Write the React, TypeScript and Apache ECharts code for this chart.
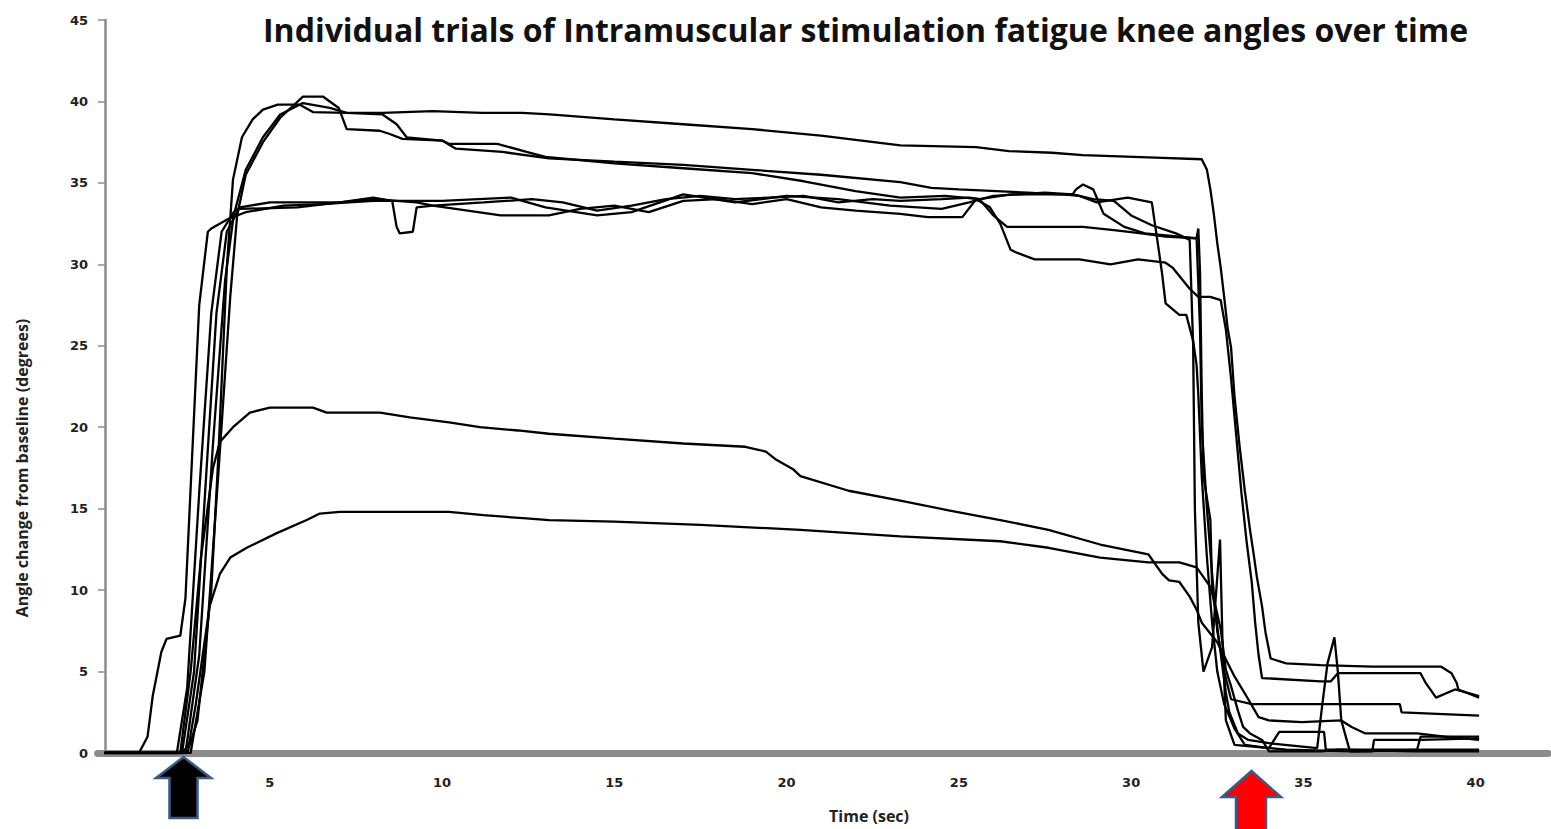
import React, { useEffect, useRef } from "react";
import * as echarts from "echarts";

const titleText = "Individual trials of Intramuscular stimulation fatigue knee angles over time";
const xAxisName = "Time (sec)";
const yAxisName = "Angle change from baseline (degrees)";

const trial1: number[][] = [[0.2,0],[2.6,0],[2.9,2],[3.3,10],[3.5,18],[3.75,29.8],[3.93,35.2],[4.19,37.8],[4.5,38.9],[4.8,39.5],[5.23,39.8],[5.87,39.8],[6.25,39.35],[7.23,39.3],[8.27,39.3],[9.72,39.4],[11.17,39.3],[12.33,39.3],[13.12,39.2],[15,38.9],[17,38.6],[19,38.3],[21,37.9],[23.3,37.3],[25.5,37.2],[26.45,36.95],[27.7,36.85],[28.6,36.7],[30.7,36.55],[32.05,36.45],[32.2,35.8],[32.3,34.6],[32.4,33.1],[32.5,31.3],[32.6,29.8],[32.7,28.0],[32.8,26.1],[32.9,24.9],[33.0,21.9],[33.15,18.8],[33.3,16.1],[33.45,13.7],[33.55,12.3],[33.65,10.8],[33.8,9.0],[33.9,7.4],[34.05,5.8],[34.5,5.5],[35.5,5.4],[37.0,5.3],[39.0,5.3],[39.3,4.9],[39.45,4.3],[39.5,3.9],[40.1,3.4]];
const trial2: number[][] = [[0.2,0],[2.7,0],[3.1,5],[3.5,17],[3.85,28],[4.05,33],[4.3,35.5],[4.8,37.5],[5.3,39.0],[5.96,40.3],[6.54,40.3],[7.0,39.6],[7.23,38.3],[8.19,38.2],[8.48,38.0],[8.85,37.7],[10.0,37.6],[10.4,37.1],[11.75,36.9],[13.1,36.5],[15,36.3],[17,36.1],[19,35.8],[21,35.5],[23.3,35.05],[24.2,34.7],[25,34.6],[27,34.4],[27.9,34.3],[28.3,34.3],[28.4,34.6],[28.6,34.9],[28.9,34.6],[29.0,34.1],[29.2,33.1],[29.8,32.3],[30.4,31.9],[31.4,31.7],[31.9,31.6],[31.95,32.2],[32.0,29.5],[32.05,22],[32.1,17],[32.3,14.3],[32.35,10.2],[32.6,6.1],[32.75,3.7],[32.85,2.5],[33.1,1.2],[33.4,0.8],[34.0,0.6],[35.4,0.3],[35.55,3.0],[35.7,5.5],[35.9,7.1],[36.0,5.0],[36.1,2.0],[36.35,0.1],[37.0,0.1],[37.05,0.8],[38.4,0.8],[40.1,0.9]];
const trial3: number[][] = [[0.2,0],[2.55,0],[2.95,6],[3.35,19],[3.7,29],[3.95,33],[4.3,35.8],[4.8,37.8],[5.3,39.2],[5.96,39.9],[6.74,39.6],[7.23,39.3],[8.27,39.2],[8.68,38.6],[8.97,37.8],[10.0,37.6],[10.2,37.4],[11.6,37.4],[12.45,36.9],[13.0,36.6],[15,36.2],[17,35.9],[19,35.6],[20.5,35.1],[22,34.5],[23.3,34.1],[24.6,34.2],[25.6,34.0],[26.5,34.3],[28.0,34.3],[28.5,34.2],[29.0,33.8],[29.9,34.1],[30.6,33.8],[30.8,30.9],[30.9,29.4],[31.0,27.6],[31.4,26.9],[31.6,26.9],[31.7,26.1],[31.8,25.3],[31.9,23.8],[31.95,22.0],[32.05,17],[32.2,12.0],[32.35,8.0],[32.5,5.0],[32.7,3.0],[33.0,1.5],[33.3,0.5],[34.0,0.3],[34.3,1.3],[35.6,1.3],[35.65,0.2],[37.0,0.2],[38.3,0.2],[38.4,1.0],[40.1,1.0]];
const trial4: number[][] = [[0.2,0],[2.3,0],[2.6,4],[2.95,16],[3.3,27],[3.6,32],[3.95,33.2],[4.13,33.5],[5.0,33.8],[6.07,33.8],[7.03,33.8],[8.0,34.1],[8.55,33.9],[8.68,32.3],[8.77,31.9],[9.15,32.0],[9.26,33.5],[9.73,33.6],[11.2,33.8],[12.6,34.0],[13.5,33.8],[14.5,33.3],[15.5,33.6],[16.5,34.0],[17.5,34.2],[18.5,34.0],[19.5,34.1],[20.5,34.2],[21.5,33.8],[22.5,34.0],[23.3,33.9],[24.5,34.0],[25.3,34.1],[25.6,34.0],[26.0,33.0],[26.4,32.3],[28.6,32.3],[29.5,32.1],[30.3,31.9],[31.0,31.7],[31.9,31.6],[32.0,26],[32.05,20],[32.2,15],[32.35,11],[32.5,7.5],[32.7,5.0],[32.9,3.3],[33.5,3.0],[37.8,3.0],[37.85,2.5],[40.1,2.3]];
const trial5: number[][] = [[0.2,0],[2.45,0],[2.8,5],[3.15,17],[3.45,27],[3.75,32],[4.1,33.4],[5.8,33.5],[7.03,33.8],[8.0,34.0],[9.26,33.8],[9.73,33.6],[11.7,33.0],[13.1,33.0],[14,33.4],[15,33.6],[16,33.2],[17,33.9],[18,34.0],[19,33.7],[20,34.0],[21,33.5],[22,33.3],[23.3,33.1],[24.1,32.9],[25.1,32.9],[25.5,34.0],[25.9,33.5],[26.2,32.5],[26.5,30.9],[26.7,30.7],[27.2,30.3],[28.5,30.3],[29.4,30.0],[30.2,30.3],[31.0,30.1],[31.2,29.8],[31.7,28.5],[31.95,28.0],[32.3,28.0],[32.6,27.8],[32.75,26],[32.9,23],[33.05,19.5],[33.2,16],[33.35,13],[33.5,10.5],[33.6,8.0],[33.7,6],[33.8,4.6],[35.5,4.4],[35.8,4.4],[36.0,4.9],[38.4,4.9],[38.55,4.3],[38.85,3.4],[39.4,3.9],[40.1,3.5]];
const trial6: number[][] = [[0.2,0],[1.2,0],[1.45,1],[1.6,3.5],[1.85,6.2],[2.0,7.0],[2.4,7.2],[2.55,9.5],[2.95,27.5],[3.2,32.0],[3.3,32.2],[3.8,32.8],[4.3,33.2],[5.4,33.6],[6.5,33.7],[8,33.9],[10,33.9],[12,34.1],[13,33.5],[14.5,33.0],[15.5,33.2],[17,34.3],[18.5,33.8],[20,34.2],[21.5,34.0],[23,33.6],[24.5,33.4],[25.3,33.8],[26,34.2],[27.5,34.4],[28.3,34.3],[28.9,34.0],[29.5,33.9],[30.0,33.0],[30.6,32.4],[31.3,31.9],[31.7,31.5],[31.8,25],[31.85,15],[31.95,8],[32.1,5],[32.35,6.5],[32.58,13.1],[32.65,7],[32.75,2],[33.0,0.5],[34.5,0.2],[36.5,0.1],[38.5,0.2],[40.1,0.2]];
const trial7: number[][] = [[0.2,0],[2.4,0],[2.7,5],[3.0,12],[3.35,17.5],[3.55,19.1],[3.93,20.0],[4.42,20.9],[5.0,21.2],[6.25,21.2],[6.65,20.9],[8.2,20.9],[9.06,20.6],[10.2,20.3],[11.1,20.0],[12.2,19.8],[13.1,19.6],[15,19.3],[17,19.0],[18.8,18.8],[19.4,18.5],[19.7,18.0],[20.2,17.4],[20.4,17.0],[21.8,16.1],[23.3,15.5],[24.7,14.9],[26.2,14.3],[27.6,13.7],[29.1,12.8],[30.5,12.2],[30.9,11.0],[31.1,10.6],[31.4,10.5],[31.7,9.6],[31.9,8.8],[32.05,8.0],[32.5,6.8],[33.0,4.7],[33.4,3.3],[33.7,2.2],[34.0,2.0],[34.95,1.9],[36.1,2.0],[36.4,1.6],[36.8,1.2],[38.3,1.2],[39.1,1.0],[40.1,0.8]];
const trial8: number[][] = [[0.2,0],[2.45,0],[2.65,0.5],[2.85,3],[3.05,6],[3.25,9.0],[3.55,11.0],[3.85,12.0],[4.33,12.6],[5.2,13.5],[6.07,14.3],[6.45,14.7],[7.03,14.8],[10.2,14.8],[11.2,14.6],[12.45,14.4],[13.1,14.3],[15,14.2],[17.5,14.0],[20.4,13.7],[23.3,13.3],[26.2,13.0],[27.6,12.6],[29.1,12.0],[30.5,11.7],[31.4,11.7],[31.9,11.4],[32.3,10.2],[32.45,9.0],[32.6,7.6],[32.75,5.1],[32.9,4.1],[33.1,2.6],[33.25,1.6],[33.45,1.2],[33.8,0.8],[34.0,0.1],[35.5,0.1],[36.0,0.2],[38.3,0.1],[40.1,0.1]];

const trials = [trial1, trial2, trial3, trial4, trial5, trial6, trial7, trial8];

export default function App() {
  const ref = useRef<HTMLDivElement>(null);
  useEffect(() => {
    if (!ref.current) return;
    const chart = echarts.init(ref.current, null, { renderer: "svg" });
    const axisGray = "#8c8c8c";
    chart.setOption({
      animation: false,
      backgroundColor: "#ffffff",
      title: {
        text: titleText,
        left: 258,
        top: 8,
        textStyle: { fontFamily: "Open Sans", fontWeight: "bold", fontSize: 32, color: "#111" },
      },
      grid: { left: 97.6, right: 1.4, top: 20, bottom: 76, containLabel: false },
      xAxis: {
        type: "value",
        min: 0,
        max: 42.1,
        interval: 5,
        offset: 4.5,
        splitLine: { show: false },
        axisLine: { show: true, lineStyle: { color: axisGray, width: 7 } },
        axisTick: { show: false },
        axisLabel: {
          margin: 18,
          fontSize: 13,
          fontWeight: "bold",
          fontFamily: "DejaVu Sans",
          color: "#222",
          formatter: (v: number) => (v > 0 && v % 5 === 0 && v <= 40 ? String(v) : ""),
        },
      },
      yAxis: {
        type: "value",
        min: 0,
        max: 45,
        interval: 5,
        offset: -7.4,
        splitLine: { show: false },
        axisLine: { show: true, onZero: false, lineStyle: { color: axisGray, width: 2.5 } },
        axisTick: { show: true, length: 7, lineStyle: { color: axisGray, width: 1.5 } },
        axisLabel: {
          margin: 17,
          fontSize: 13,
          fontWeight: "bold",
          fontFamily: "DejaVu Sans",
          color: "#222",
        },
      },
      graphic: [
        {
          type: "text",
          x: 22,
          y: 468,
          rotation: Math.PI / 2,
          style: {
            text: yAxisName,
            fontFamily: "Open Sans",
            fontWeight: "bold",
            fontSize: 16,
            fill: "#222",
            align: "center",
            verticalAlign: "middle",
          },
        },
        {
          type: "text",
          x: 869,
          y: 816,
          style: {
            text: xAxisName,
            fontFamily: "Open Sans",
            fontWeight: "bold",
            fontSize: 16,
            fill: "#222",
            align: "center",
            verticalAlign: "middle",
          },
        },
        {
          type: "polygon",
          shape: {
            points: [[183.5, 757], [156, 778], [169.5, 778], [169.5, 818], [197.5, 818], [197.5, 778], [211, 778]],
          },
          style: { fill: "#000000", stroke: "#3d5a86", lineWidth: 2.5 },
          z: 100,
        },
        {
          type: "polygon",
          shape: {
            points: [[1251.5, 771], [1222, 797], [1236, 797], [1236, 834], [1266, 834], [1266, 797], [1281, 797]],
          },
          style: { fill: "#ff0000", stroke: "#3d5a86", lineWidth: 2.5 },
          z: 100,
        },
      ],
      series: trials.map((d, i) => ({
        type: "line",
        name: "Trial " + (i + 1),
        data: d,
        showSymbol: false,
        symbol: "none",
        lineStyle: { color: "#000000", width: 2.3 },
        z: 3,
      })),
    });
    return () => chart.dispose();
  }, []);
  return (
    <div
      ref={ref}
      style={{ position: "absolute", left: 0, top: 0, width: 1551, height: 829, background: "#fff" }}
    />
  );
}
